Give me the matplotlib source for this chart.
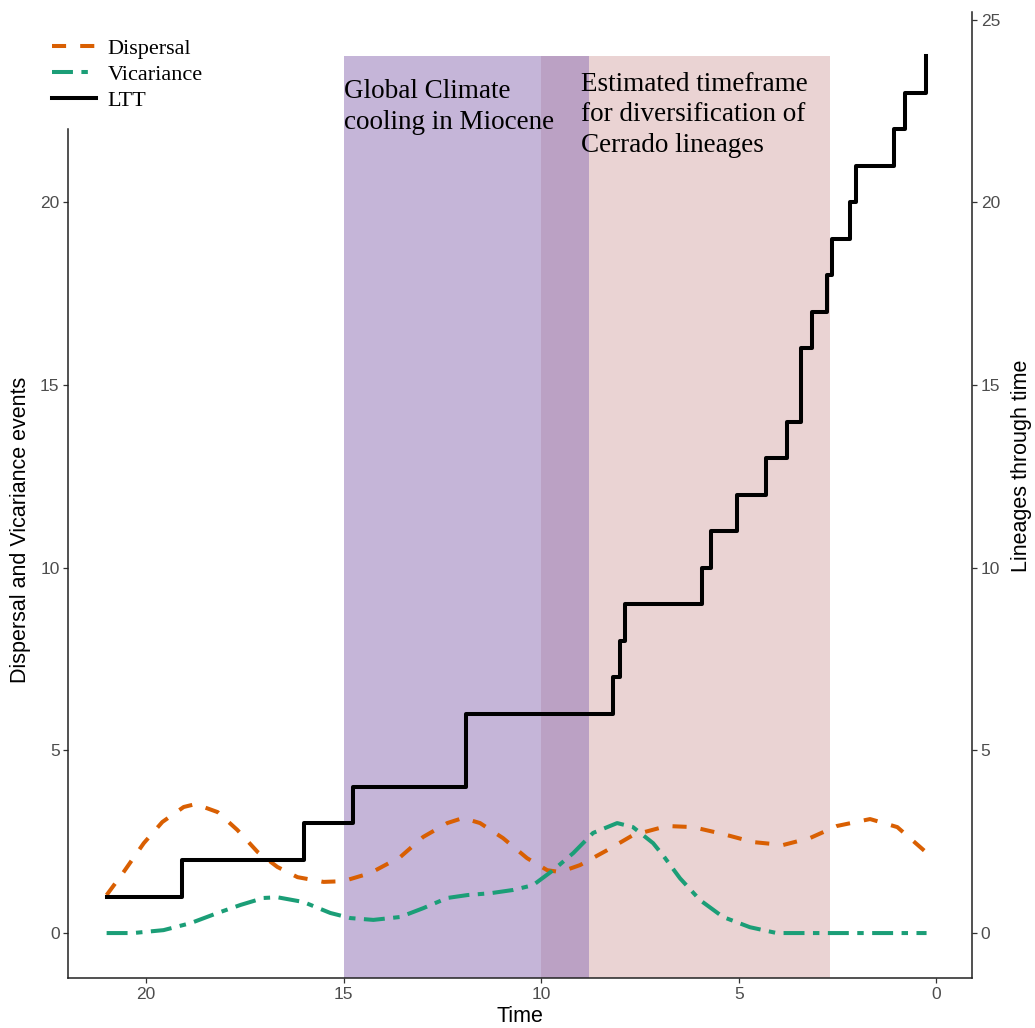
import matplotlib.pyplot as plt

W, H = 1035, 1028

# lineages through time: time of each jump and lineage count after it
ltt_time = [21.0, 19.08, 16.0, 14.76, 11.9, 8.18, 8.0, 7.88, 5.93, 5.7, 5.05,
            4.31, 3.78, 3.43, 3.15, 2.77, 2.64, 2.19, 2.04, 1.08, 0.8, 0.26]
ltt_count = [1, 2, 3, 4, 6, 7, 8, 9, 10, 11, 12, 13, 14, 16, 17, 18, 19, 20,
             21, 22, 23, 24]

# smoothed event counts
disp_time = [21.0, 20.57, 20.06, 19.59, 19.05, 18.75, 18.19, 17.69, 17.18,
             16.68, 16.17, 15.51, 15.01, 14.33, 13.57, 12.99, 12.38, 11.98,
             11.55, 10.97, 10.36, 9.85, 9.52, 9.02, 8.33, 7.68, 6.82, 6.16,
             5.4, 4.64, 3.88, 3.2, 2.52, 1.68, 0.99, 0.25]
disp_events = [1.04, 1.67, 2.46, 3.04, 3.45, 3.53, 3.31, 2.82, 2.22, 1.81,
               1.53, 1.4, 1.42, 1.64, 2.08, 2.63, 3.01, 3.15, 3.01, 2.6, 2.05,
               1.72, 1.67, 1.86, 2.27, 2.68, 2.93, 2.9, 2.71, 2.49, 2.41, 2.6,
               2.93, 3.12, 2.9, 2.2]

vic_time = [21.0, 20.33, 19.56, 18.88, 18.19, 17.61, 17.03, 16.68, 16.02,
            15.34, 14.83, 14.25, 13.57, 12.99, 12.38, 11.87, 11.29, 10.71,
            10.21, 9.7, 9.19, 8.69, 8.08, 7.68, 7.17, 6.9, 6.49, 5.98, 5.4,
            4.72, 4.04, 3.2, 0.25]
vic_events = [0.0, 0.0, 0.08, 0.27, 0.55, 0.77, 0.96, 0.98, 0.85, 0.55, 0.41,
              0.36, 0.44, 0.68, 0.96, 1.04, 1.09, 1.18, 1.31, 1.72, 2.19, 2.74,
              3.01, 2.9, 2.46, 2.1, 1.5, 0.9, 0.44, 0.16, 0.0, 0.0, 0.0]

# highlighted time windows (start, end) and top of the bands
cooling = (15.0, 8.8)
cerrado = (10.0, 2.7)
band_top = 24

ylo, yhi = -1.23, 25.2
left_top = 22

sans = 'Liberation Sans'
serif = 'Liberation Serif'
grey = '#4d4d4d'

fig = plt.figure(figsize=(W / 100, H / 100), dpi=100)
ax = fig.add_axes([68.3 / W, 50 / H, (972 - 68.3) / W, (978 - 12.3) / H])
ax.set_xlim(21.97, -0.90)
ax.set_ylim(ylo, yhi)

frac = (band_top - ylo) / (yhi - ylo)
ax.axvspan(cerrado[0], cerrado[1], ymin=0, ymax=frac, color='#ead3d3', lw=0, zorder=0)
ax.axvspan(cooling[0], cooling[1], ymin=0, ymax=frac, color='#9679b8', alpha=0.55, lw=0, zorder=1)

lw = 2.9
l_disp, = ax.plot(disp_time, disp_events, color='#d95f02', lw=lw,
                  dashes=(3.5, 3.5), dash_capstyle='butt', label='Dispersal', zorder=3)
l_vic, = ax.plot(vic_time, vic_events, color='#1b9e77', lw=lw,
                 dashes=(5.2, 2.1, 1.6, 2.1), dash_capstyle='butt', label='Vicariance', zorder=3)
l_ltt, = ax.step(ltt_time, ltt_count, where='post', color='black', lw=lw,
                 label='LTT', zorder=4)

for s in ['top', 'right']:
    ax.spines[s].set_visible(False)
ax.spines['left'].set_bounds(ylo, left_top)
for s in ['left', 'bottom']:
    ax.spines[s].set_linewidth(1.1)
    ax.spines[s].set_color('#222222')

ax.set_xticks([20, 15, 10, 5, 0])
ax.set_yticks([0, 5, 10, 15, 20])
ax.tick_params(length=3.8, width=0.9, color='#333333', labelcolor=grey,
               labelsize=12.5, pad=2.5)
for t in ax.get_xticklabels() + ax.get_yticklabels():
    t.set_family(sans)

ax2 = ax.twinx()
ax2.set_ylim(ylo, yhi)
ax2.set_yticks([0, 5, 10, 15, 20, 25])
ax2.tick_params(length=3.8, width=0.9, color='#333333', labelcolor=grey,
                labelsize=12.5, pad=2.5)
for t in ax2.get_yticklabels():
    t.set_family(sans)
for s in ['top', 'left', 'bottom']:
    ax2.spines[s].set_visible(False)
ax2.spines['right'].set_linewidth(1.1)
ax2.spines['right'].set_color('#222222')

# axis titles
fig.text(520 / W, 1 - 1017 / H, 'Time', ha='center', va='center',
         family=sans, fontsize=15.5)
fig.text(21 / W, 1 - 530 / H, 'Dispersal and Vicariance events', rotation=90,
         ha='center', va='center', family=sans, fontsize=15.5)
fig.text(1021 / W, 1 - 466 / H, 'Lineages through time', rotation=90,
         ha='center', va='center', family=sans, fontsize=15.5)

# band annotations (anchored on the baseline of the last line)
fig.text(344 / W, 1 - 129 / H, 'Global Climate\ncooling in Miocene',
         ha='left', va='baseline', family=serif, fontsize=19.5, linespacing=1.29)
fig.text(581 / W, 1 - 152 / H,
         'Estimated timeframe\nfor diversification of\nCerrado lineages',
         ha='left', va='baseline', family=serif, fontsize=19.5, linespacing=1.29)

fig.legend(handles=[l_disp, l_vic, l_ltt], loc='upper left',
           bbox_to_anchor=(52 / W, 1 - 38.5 / H), frameon=False, borderpad=0,
           borderaxespad=0, handlelength=2.0, handletextpad=0.5,
           labelspacing=0.25, prop={'family': serif, 'size': 16})

fig.savefig('out.png', dpi=100)
